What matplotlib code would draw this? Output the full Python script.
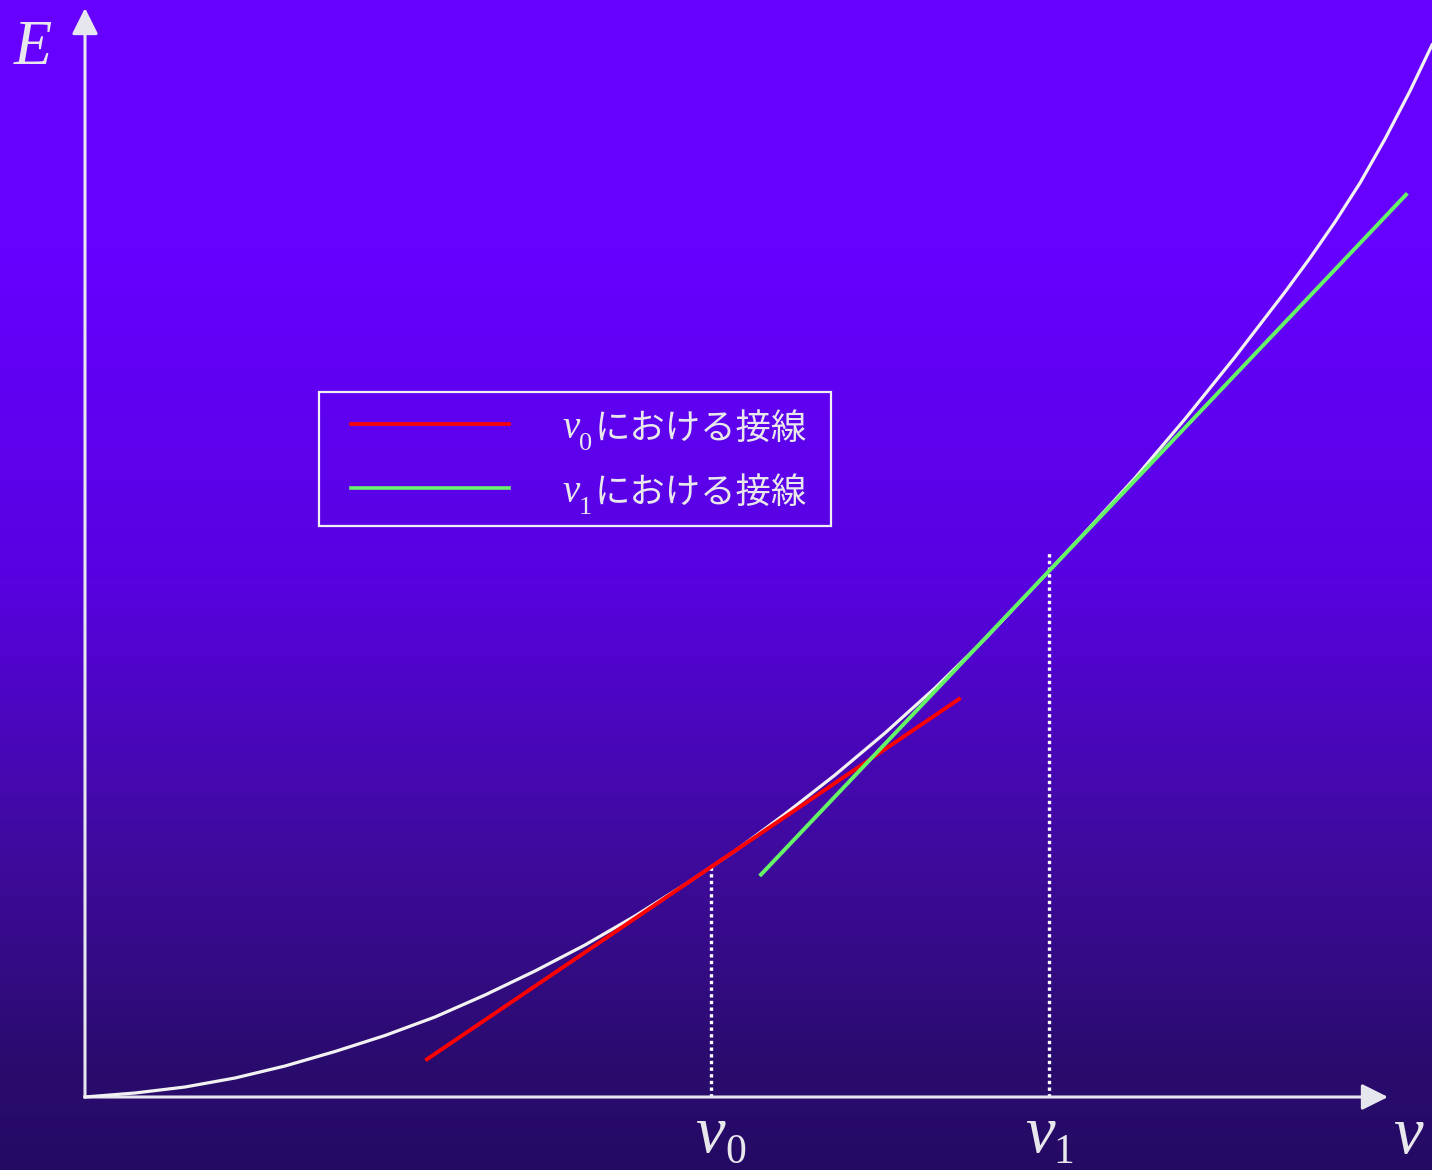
import numpy as np
import matplotlib
matplotlib.use("Agg")
import matplotlib.pyplot as plt
from matplotlib.lines import Line2D
from matplotlib.patches import Rectangle

# ---------------- data (units: axis origin = 0) ----------------
v_curve = [0, 0.5, 1.0, 1.5, 2.0, 2.5, 3.0, 3.5, 4.0, 4.5, 5.0, 5.5, 6.0, 6.26,
           6.5, 7.0, 7.5, 8.0, 8.5, 9.0, 9.64, 10.0, 10.5, 11.0, 11.5, 12.0,
           12.25, 12.5, 12.75, 13.0, 13.25, 13.47]
E_curve = [0, 0.04, 0.10, 0.19, 0.31, 0.455, 0.615, 0.80, 1.02, 1.26, 1.52, 1.81,
           2.125, 2.30, 2.46, 2.83, 3.22, 3.64, 4.09, 4.58, 5.26, 5.645, 6.19,
           6.78, 7.40, 8.05, 8.39, 8.75, 9.14, 9.58, 10.06, 10.52]

v0, E0, slope0 = 6.26, 2.30, 0.677
v1, E1, slope1 = 9.64, 5.26, 1.054
tan0_range = [3.42, 8.74]
tan1_range = [6.76, 13.21]
v1_dotted_top = 5.45

legend_labels = ["における接線", "における接線"]
legend_subs = ["0", "1"]
legend_colors = ["#ff0000", "#66f566"]

W, H = 1432, 1170
OX, OY = 85, 1097
fig = plt.figure(figsize=(W / 100, H / 100), dpi=100)

# background gradient
ys = np.arange(H)
stops_y = [0, 250, 580, 840, 1060, 1170]
stops_c = np.array([[0x66, 0x00, 0xFF], [0x66, 0x00, 0xFF], [0x58, 0x02, 0xE0],
                    [0x40, 0x0A, 0xA0], [0x2A, 0x0C, 0x6E], [0x25, 0x0A, 0x64]]) / 255
grad = np.stack([np.interp(ys, stops_y, stops_c[:, k]) for k in range(3)], axis=1)
bg = fig.add_axes([0, 0, 1, 1])
bg.imshow(grad[:, None, :], aspect="auto", extent=[0, 1, 0, 1])
bg.axis("off")

ax = fig.add_axes([0, 0, 1, 1])
ax.patch.set_alpha(0)
ax.set_xlim(-OX / 100, (W - OX) / 100)
ax.set_ylim(-(H - OY) / 100, OY / 100)
ax.axis("off")


def P(px, py):
    return (px - OX) / 100, (OY - py) / 100


axis_col = "#e6e6ee"
txt_col = "#e8e8ec"

# axes arrows
for tip in [P(1388, OY), P(OX, 8)]:
    ax.annotate("", xy=tip, xytext=(0, 0),
                arrowprops=dict(arrowstyle="-|>,head_length=0.8,head_width=0.4",
                                mutation_scale=20, lw=2.2, color=axis_col,
                                shrinkA=0, shrinkB=0))

# dotted guides
for vx, top in [(v0, E0), (v1, v1_dotted_top)]:
    ax.plot([vx, vx], [0, top], color="white", lw=2.4, ls=(0, (1, 1)),
            dash_capstyle="butt", zorder=2)

# curve
ax.plot(v_curve, E_curve, color="#f2f2f2", lw=2.3, zorder=3,
        solid_joinstyle="round")

# tangents
t0 = np.array(tan0_range)
ax.plot(t0, E0 + slope0 * (t0 - v0), color=legend_colors[0], lw=2.8, zorder=4)
t1 = np.array(tan1_range)
ax.plot(t1, E1 + slope1 * (t1 - v1), color=legend_colors[1], lw=2.8, zorder=5)

serif = "Liberation Serif"
# axis labels
ax.text(*P(14, 64), "E", family=serif, style="italic", fontsize=45,
        color=txt_col, ha="left", va="baseline")
ax.text(*P(1393, 1153), "v", family=serif, style="italic", fontsize=48,
        color=txt_col, ha="left", va="baseline")
for sub, px_v, px_s in [("0", 695, 725), ("1", 1025, 1053)]:
    ax.text(*P(px_v, 1152), "v", family=serif, style="italic", fontsize=48,
            color=txt_col, ha="left", va="baseline")
    ax.text(*P(px_s, 1163), sub, family=serif, fontsize=30,
            color=txt_col, ha="left", va="baseline")

# legend (drawn manually)
x0, y0 = P(319, 526)
x1, y1 = P(831, 392)
ax.add_patch(Rectangle((x0, y0), x1 - x0, y1 - y0, fill=False,
                       edgecolor="#f0f0f4", lw=1.6, zorder=6))
for i, (lab, sub, col) in enumerate(zip(legend_labels, legend_subs, legend_colors)):
    yl = 424 + 64 * i
    xa, ya = P(351, yl)
    xb, _ = P(509, yl)
    ax.add_line(Line2D([xa, xb], [ya, ya], color=col, lw=2.6, zorder=6))
    ax.text(*P(562, 438 + 64 * i), "v", family=serif, style="italic",
            fontsize=28, color=txt_col, ha="left", va="baseline", zorder=6)
    ax.text(*P(579, 450 + 64 * i), sub, family=serif, fontsize=19,
            color=txt_col, ha="left", va="baseline", zorder=6)
    ax.text(*P(595, 439 + 64 * i), lab, family=["Noto Sans CJK JP", "DejaVu Sans"],
            fontsize=25.5, color=txt_col, ha="left", va="baseline", zorder=6)

fig.savefig("out.png", dpi=100)
